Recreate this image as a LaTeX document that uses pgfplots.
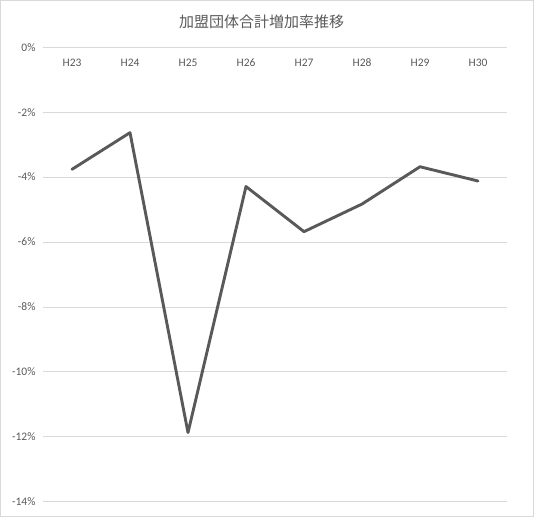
\documentclass[border=0pt]{standalone}
\usepackage{pgfplots}
\pgfplotsset{compat=1.18}
\usepackage{fontspec}
\setmainfont{Carlito}
\newfontfamily\cjk{Noto Sans CJK JP}
\definecolor{txt}{HTML}{595959}
\definecolor{gridc}{HTML}{D9D9D9}
\definecolor{ln}{HTML}{595959}
\begin{document}
\begin{tikzpicture}
\path[use as bounding box] (0,0) rectangle (534bp,517bp);
\draw[gridc, line width=1bp] (0.5bp,0.5bp) rectangle (533.5bp,516.5bp);
\node[text=txt, font=\cjk\fontsize{15bp}{18bp}\selectfont] at (261.5bp,495.3bp) {加盟団体合計増加率推移};
\begin{axis}[
  at={(43bp,15.3bp)}, anchor=south west,
  width=464bp, height=454.4bp, scale only axis,
  xmin=-0.5, xmax=7.5, ymin=-14, ymax=0,
  xtick={0,...,7},
  xticklabels={H23,H24,H25,H26,H27,H28,H29,H30},
  xticklabel pos=upper,
  xticklabel style={anchor=north, yshift=-8bp},
  ytick={-14,-12,...,0},
  yticklabel={\pgfmathprintnumber{\tick}\%},
  /pgf/number format/assume math mode=true,
  yticklabel style={xshift=-4bp},
  tick label style={font=\fontsize{11.5bp}{13bp}\selectfont, text=txt},
  major tick length=0pt,
  xmajorgrids=false,
  ymajorgrids=true,
  grid style={draw=gridc, line width=0.9bp},
  axis line style={draw=none},
  clip=false,
]
\addplot[ln, line width=2.9bp, line join=round, line cap=round] coordinates {
  (0,-3.76) (1,-2.63) (2,-11.87) (3,-4.29) (4,-5.68) (5,-4.83) (6,-3.68) (7,-4.12)
};
\end{axis}
\end{tikzpicture}
\end{document}
